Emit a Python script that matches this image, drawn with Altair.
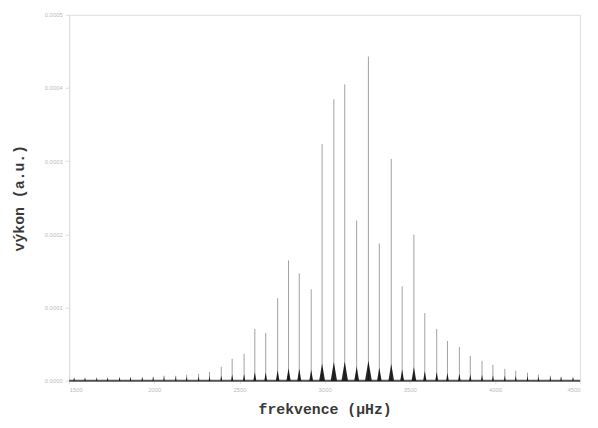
import altair as alt
import pandas as pd

# mode frequencies (µHz) and power (a.u.)
freq = [1529, 1593, 1662, 1726, 1796, 1860, 1929, 1993, 2057, 2126, 2190, 2260,
        2324, 2393, 2457, 2527, 2590, 2654, 2724, 2788, 2851, 2921, 2985, 3054,
        3118, 3188, 3257, 3321, 3391, 3455, 3524, 3588, 3658, 3721, 3791, 3855,
        3924, 3988, 4058, 4122, 4191, 4255, 4325, 4388, 4458]
power = [0.0000027, 0.0000027, 0.0000027, 0.0000027, 0.0000041, 0.0000041,
         0.0000041, 0.0000054, 0.0000068, 0.0000068, 0.0000082, 0.0000095,
         0.0000122, 0.0000190, 0.0000299, 0.0000367, 0.0000707, 0.0000652,
         0.0001128, 0.0001644, 0.0001467, 0.0001250, 0.0003234, 0.0003845,
         0.0004049, 0.0002188, 0.0004429, 0.0001875, 0.0003030, 0.0001291,
         0.0001997, 0.0000924, 0.0000707, 0.0000543, 0.0000462, 0.0000340,
         0.0000272, 0.0000217, 0.0000163, 0.0000136, 0.0000109, 0.0000082,
         0.0000068, 0.0000054, 0.0000041]

x_ticks = [1500, 2000, 2500, 3000, 3500, 4000, 4500]
y_ticks = [0.0, 0.0001, 0.0002, 0.0003, 0.0004, 0.0005]

df = pd.DataFrame({"f": freq, "p": power})
base_df = pd.DataFrame({"x0": [1500], "x1": [4500], "y": [0.0]})

xs = alt.Scale(domain=[1500, 4500], nice=False, zero=False)
ys = alt.Scale(domain=[0, 0.0005], nice=False)

xaxis = alt.Axis(values=x_ticks, format="d", title="frekvence (µHz)",
                 labelFontSize=6, labelColor="#bbbbbb", domainColor="#dddddd",
                 tickColor="#dddddd", tickSize=3, grid=False,
                 titleFont="Liberation Mono", titleFontSize=15, titleFontWeight="bold",
                 titleColor="#3a3a3a", titlePadding=9, labelPadding=3)
yaxis = alt.Axis(values=y_ticks, format=".4f", title="výkon (a.u.)",
                 labelFontSize=6, labelColor="#bbbbbb", domainColor="#dddddd",
                 tickColor="#dddddd", tickSize=4, grid=False,
                 titleFont="Liberation Mono", titleFontSize=15, titleFontWeight="bold",
                 titleColor="#3a3a3a", titlePadding=18, labelPadding=3)

lines = alt.Chart(df).mark_rule(color="#a0a0a0", strokeWidth=1).encode(
    x=alt.X("f:Q", scale=xs, axis=xaxis),
    y=alt.Y("p:Q", scale=ys, axis=yaxis),
    y2=alt.datum(0),
)

tri = alt.Chart(df).mark_point(
    shape="M-0.34,0 L0,-2 L0.34,0 Z", filled=True, color="black", opacity=0.85,
).encode(
    x=alt.X("f:Q", scale=xs),
    y=alt.datum(0),
    size=alt.Size("p:Q", scale=alt.Scale(domain=[0, 0.00045], range=[12, 420]), legend=None),
)

baseline = alt.Chart(base_df).mark_rule(color="#555555", strokeWidth=2).encode(
    x=alt.X("x0:Q", scale=xs),
    x2="x1:Q",
    y=alt.Y("y:Q", scale=ys),
)

chart = alt.layer(lines, baseline, tri).properties(
    width=518, height=371,
    autosize=alt.AutoSizeParams(type="none"),
    padding={"left": 62, "top": 4, "right": 10, "bottom": 40},
).configure_view(stroke="#dddddd", strokeWidth=1).configure(background="white")

chart.save("out.html", embed_options={"renderer": "svg", "actions": False})
